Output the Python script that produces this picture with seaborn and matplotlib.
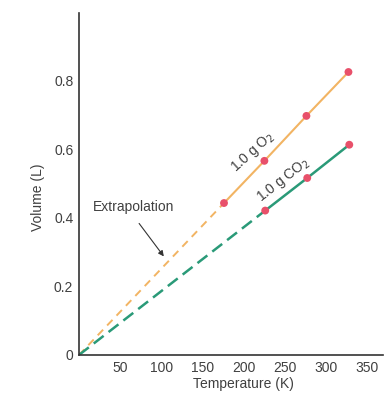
import matplotlib
matplotlib.use("Agg")
import matplotlib.pyplot as plt
import seaborn as sns
import pandas as pd

sns.set_style("white")
plt.rcParams['font.family'] = ['Liberation Sans', 'DejaVu Sans']

temps = [176, 225, 276, 327]
o2_volume = [0.443, 0.566, 0.697, 0.825]
co2_temps = [226, 277, 328]
co2_volume = [0.421, 0.516, 0.613]
x_ticks = [50, 100, 150, 200, 250, 300, 350]
y_ticks = [0, 0.2, 0.4, 0.6, 0.8]
y_tick_labels = ["0", "0.2", "0.4", "0.6", "0.8"]

orange = "#f2b463"
green = "#2a9a78"
pink = "#e8506a"
textc = "#404040"

fig = plt.figure(figsize=(3.85, 4.0), dpi=100)
ax = fig.add_axes([0.205, 0.1125, 0.79, 0.855])

o2 = pd.DataFrame({"T": temps, "V": o2_volume})
co2 = pd.DataFrame({"T": co2_temps, "V": co2_volume})
o2_ext = pd.DataFrame({"T": [0, temps[0]], "V": [0, o2_volume[0]]})
co2_ext = pd.DataFrame({"T": [0, co2_temps[0]], "V": [0, co2_volume[0]]})

sns.lineplot(data=o2_ext, x="T", y="V", ax=ax, color=orange, lw=1.4, linestyle=(0, (4, 3)))
sns.lineplot(data=co2_ext, x="T", y="V", ax=ax, color=green, lw=1.8, linestyle=(0, (5, 2.5)))
sns.lineplot(data=o2, x="T", y="V", ax=ax, color=orange, lw=1.5)
sns.lineplot(data=co2, x="T", y="V", ax=ax, color=green, lw=1.8)
sns.scatterplot(data=o2, x="T", y="V", ax=ax, color=pink, s=32, edgecolor="none", zorder=5)
sns.scatterplot(data=co2, x="T", y="V", ax=ax, color=pink, s=32, edgecolor="none", zorder=5)

ax.set_xlim(0, 369)
ax.set_ylim(0, 0.997)
ax.set_xticks(x_ticks)
ax.set_yticks(y_ticks)
ax.set_yticklabels(y_tick_labels)
ax.tick_params(direction="in", length=4, width=0.8, colors="#555555", labelcolor=textc, labelsize=10, pad=4)
ax.set_xlabel("Temperature (K)", fontsize=10, color=textc)
ax.set_ylabel("Volume (L)", fontsize=10, color=textc)
ax.xaxis.set_label_coords(0.54, -0.065)
ax.yaxis.set_label_coords(-0.112, 0.46)
sns.despine(ax=ax)
for s in ["left", "bottom"]:
    ax.spines[s].set_color("#333333")
    ax.spines[s].set_linewidth(1.2)

ax.text(211, 0.592, "1.0 g O$_2$", rotation=42, fontsize=10, color=textc, ha="center", va="center", rotation_mode="anchor")
ax.text(248, 0.51, "1.0 g CO$_2$", rotation=38, fontsize=10, color=textc, ha="center", va="center", rotation_mode="anchor")
ax.text(17, 0.431, "Extrapolation", fontsize=10, color=textc, ha="left", va="center")
ax.annotate("", xy=(105, 0.281), xytext=(71, 0.39),
            arrowprops=dict(arrowstyle="-|>", color="#333333", lw=0.8, mutation_scale=8))

fig.savefig("out.png", dpi=100)
